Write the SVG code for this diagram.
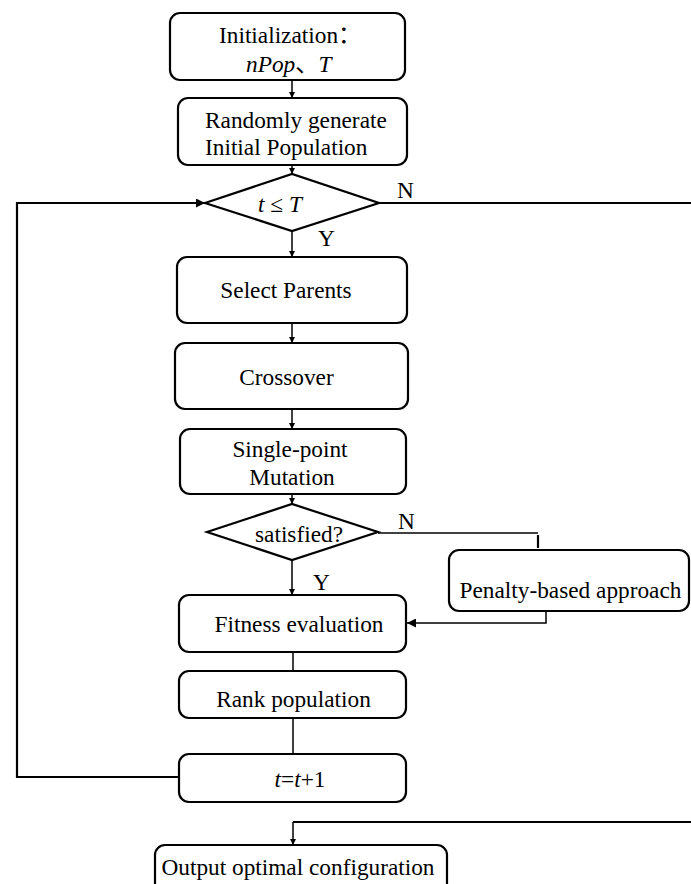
<svg xmlns="http://www.w3.org/2000/svg" width="691" height="884" viewBox="0 0 691 884">
<defs>
<style>
.box{fill:#fff;stroke:#000;stroke-width:2.2}
.ln{fill:none;stroke:#000;stroke-width:1.5}
.lnb{fill:none;stroke:#000;stroke-width:2.2}
text{font-family:"Liberation Serif","Times New Roman",serif;font-size:23.3px;fill:#000}
.cjk{font-family:"Noto Sans CJK SC",sans-serif}
.c{text-anchor:middle}
.i{font-style:italic}
</style>
<marker id="ah" viewBox="0 0 10 10" refX="10" refY="5" markerWidth="6" markerHeight="6" markerUnits="userSpaceOnUse" orient="auto"><path d="M0,0L10,5L0,10z" fill="#000"/></marker>
<marker id="ahb" viewBox="0 0 10 10" refX="10" refY="5" markerWidth="12" markerHeight="9" markerUnits="userSpaceOnUse" orient="auto"><path d="M0,0L10,5L0,10z" fill="#000"/></marker>
</defs>
<rect width="691" height="884" fill="#fff"/>
<g id="connectors">
<line class="ln" x1="292" y1="80" x2="292" y2="98" marker-end="url(#ah)"/>
<line class="ln" x1="292" y1="165" x2="292" y2="174" marker-end="url(#ah)"/>
<line class="ln" x1="292" y1="231" x2="292" y2="257" marker-end="url(#ah)"/>
<line class="ln" x1="292" y1="323" x2="292" y2="343" marker-end="url(#ah)"/>
<line class="ln" x1="292" y1="409" x2="292" y2="429" marker-end="url(#ah)"/>
<line class="ln" x1="292" y1="494" x2="292" y2="504" marker-end="url(#ah)"/>
<line class="ln" x1="292" y1="560" x2="292" y2="595" marker-end="url(#ah)"/>
<line class="ln" x1="293" y1="652" x2="293" y2="671"/>
<line class="ln" x1="293" y1="718" x2="293" y2="754"/>
<polyline class="lnb" points="178,777 17,777 17,203 205,203" marker-end="url(#ahb)"/>
<line class="lnb" x1="379" y1="203" x2="691" y2="203"/>
<line class="ln" x1="378" y1="533" x2="538" y2="533"/>
<line class="lnb" x1="538" y1="535" x2="538" y2="548"/>
<polyline class="ln" points="546,611 546,623 407,623" marker-end="url(#ahb)"/>
<polyline class="lnb" points="691,822 293,822"/>
<line class="ln" x1="293" y1="822" x2="293" y2="845" marker-end="url(#ah)"/>
<text x="397" y="198">N</text>
<text x="318" y="246">Y</text>
<text x="398" y="529">N</text>
<text x="313" y="590">Y</text>
</g>
<g id="init">
<rect class="box" x="170" y="13" width="235" height="67" rx="10"/>
<text x="219" y="43">Initialization<tspan class="cjk">：</tspan></text>
<text x="246" y="72"><tspan class="i">nPop</tspan><tspan class="cjk">、</tspan><tspan class="i">T</tspan></text>
</g>
<g id="random">
<rect class="box" x="178" y="98" width="229" height="67" rx="10"/>
<text x="205" y="128">Randomly generate</text>
<text x="205" y="155">Initial Population</text>
</g>
<g id="cond1">
<polygon class="box" points="205,203 292,174 379,203 292,231"/>
<text x="280" y="212" class="c"><tspan class="i">t</tspan> ≤ <tspan class="i">T</tspan></text>
</g>
<g id="select">
<rect class="box" x="177" y="257" width="230" height="66" rx="10"/>
<text x="286" y="298" class="c">Select Parents</text>
</g>
<g id="crossover">
<rect class="box" x="175" y="343" width="233" height="66" rx="10"/>
<text x="286.5" y="385" class="c">Crossover</text>
</g>
<g id="mutation">
<rect class="box" x="180" y="429" width="226" height="65" rx="10"/>
<text x="290" y="457" class="c">Single-point</text>
<text x="292" y="485" class="c">Mutation</text>
</g>
<g id="cond2">
<polygon class="box" points="207,532 292,504 378,532 292,560"/>
<text x="299" y="542" class="c">satisfied?</text>
</g>
<g id="penalty">
<rect class="box" x="449" y="550" width="240" height="61" rx="10"/>
<text x="570.5" y="598" class="c">Penalty-based approach</text>
</g>
<g id="fitness">
<rect class="box" x="179" y="595" width="227" height="57" rx="10"/>
<text x="299" y="632" class="c">Fitness evaluation</text>
</g>
<g id="rank">
<rect class="box" x="179" y="671" width="227" height="47" rx="10"/>
<text x="293.5" y="707" class="c">Rank population</text>
</g>
<g id="incr">
<rect class="box" x="179" y="754" width="227" height="48" rx="10"/>
<text x="300" y="787" class="c"><tspan class="i">t</tspan>=<tspan class="i">t</tspan>+1</text>
</g>
<g id="output">
<rect class="box" x="155" y="845" width="292" height="50" rx="10"/>
<text x="298" y="875" class="c">Output optimal configuration</text>
</g>
</svg>
